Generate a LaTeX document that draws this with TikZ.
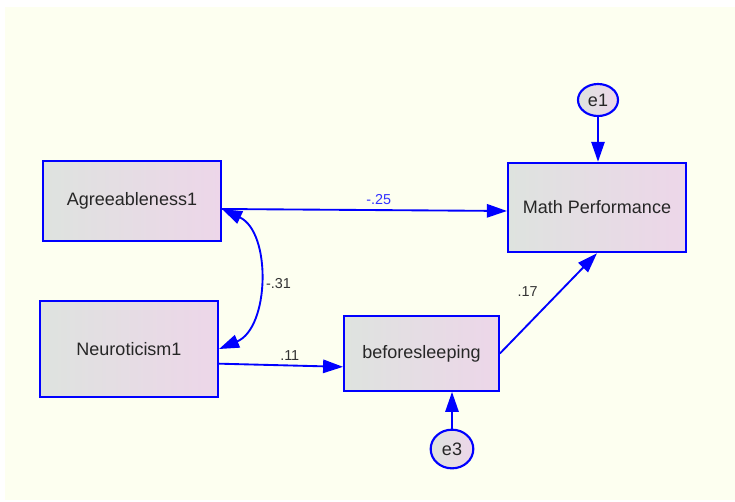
\documentclass[tikz,border=0pt]{standalone}
\usepackage{fontspec}
\setmainfont{Liberation Sans}
\usetikzlibrary{shapes.geometric, arrows.meta, positioning}
\definecolor{amosbg}{RGB}{253,255,240}
\definecolor{amosblue}{RGB}{0,0,255}
\definecolor{boxleft}{RGB}{222,227,223}
\definecolor{boxright}{RGB}{237,214,233}
\definecolor{coefblue}{RGB}{50,50,255}
\tikzset{
  observed/.style={rectangle, draw=amosblue, line width=1.6pt, left color=boxleft,
                   right color=boxright, text=black!85, inner sep=0pt,
                   font=\fontsize{13.5}{16}\selectfont},
  errorvar/.style={ellipse, draw=amosblue, line width=1.6pt, left color=boxleft,
                   right color=boxright, text=black!85, inner sep=0pt,
                   font=\fontsize{13.5}{16}\selectfont},
  effect/.style={-{Triangle[length=15pt, width=10pt]}, draw=amosblue, line width=1.4pt},
  covar/.style={{Triangle[length=15pt, width=10pt]}-{Triangle[length=15pt, width=10pt]},
                draw=amosblue, line width=1.4pt},
  coef/.style={font=\fontsize{10.8}{13}\selectfont, text=black!80},
}

\begin{document}
\begin{tikzpicture}[x=0.75pt, y=-0.75pt]
  % Canvas
  \fill[white] (0,0) rectangle (735,501);
  \fill[amosbg] (5,7) rectangle (735,500);

  % Observed variables
  \node (agree) at (132,201) [observed, minimum width=133.5pt, minimum height=60pt] {Agreeableness1};
  \node (neuro) at (129,349) [observed, minimum width=133.5pt, minimum height=72pt] {Neuroticism1};
  \node (sleep) at (421.5,353.5) [observed, minimum width=116pt, minimum height=56pt] {beforesleeping};
  \node (math) at (597,207.5) [observed, minimum width=133.5pt, minimum height=67pt] {Math Performance};

  % Error terms
  \node (e1) at (598,100) [errorvar, minimum width=30pt, minimum height=24pt] {e1};
  \node (e3) at (452,449) [errorvar, minimum width=32pt, minimum height=29pt] {e3};

  % Regression paths
  \draw[effect] ([yshift=-6pt]agree.east) -- node[coef, pos=0.55, above, text=coefblue] {-.25} ([yshift=-2.6pt]math.west);
  \draw[effect] ([yshift=-11pt]neuro.east) -- node[coef, pos=0.57, above] {.11} ([yshift=-10pt]sleep.west);
  \draw[effect] (sleep.east) -- node[coef, pos=0.5, above left=1pt and 4pt] {.17} (math.south);
  \draw[effect] (e1) -- (math.north -| e1);
  \draw[effect] (e3) -- (sleep.south -| e3);

  % Covariance
  \draw[covar] ([yshift=-6pt]agree.east) to[bend left=66] node[coef, right=2pt, yshift=-2.5pt] {-.31} (neuro.east);

\end{tikzpicture}
\end{document}
